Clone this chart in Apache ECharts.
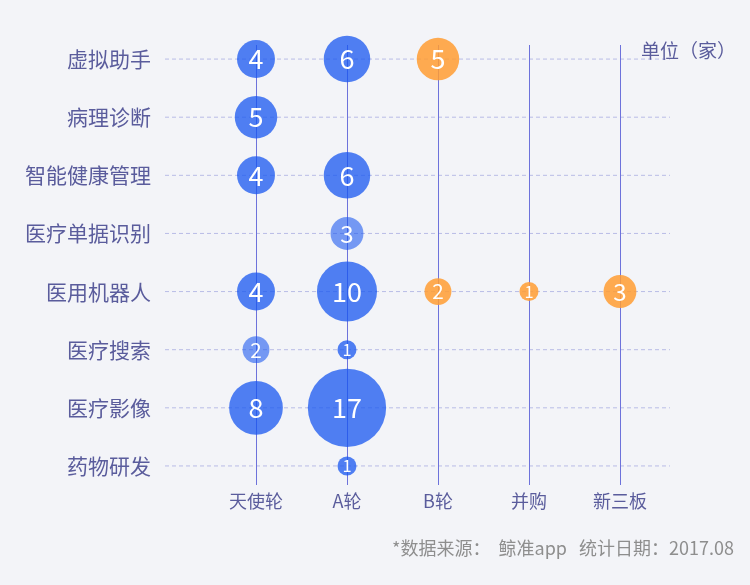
<!DOCTYPE html>
<html style="height: 100%">
<head>
    <meta charset="utf-8">
    <title>医疗AI融资轮次分布</title>
</head>
<body style="height: 100%; margin: 0; background: #f3f4f8">
<div id="container" style="width: 750px; height: 585px"></div>
<script type="text/javascript" src="https://cdn.jsdelivr.net/npm/echarts@6/dist/echarts.min.js"></script>
<script type="text/javascript">
// 融资轮次 (x) 与 应用领域 (y)
var stages = ['天使轮', 'A轮', 'B轮', '并购', '新三板'];
var fields = ['虚拟助手', '病理诊断', '智能健康管理', '医疗单据识别', '医用机器人', '医疗搜索', '医疗影像', '药物研发'];

// 每个轮次下各领域的公司数量（单位：家），按 fields 顺序
var angel  = [4, 5, 4, null, 4, 2, 8, null];
var roundA = [6, null, 6, 3, 10, 1, 17, 1];
var roundB = [5, null, null, null, 2, null, null, null];
var merger = [null, null, null, null, 1, null, null, null];
var neeq   = [null, null, null, null, 3, null, null, null];

var counts = [angel, roundA, roundB, merger, neeq];

var textColor = '#5a5c9c';
var fontFamily = 'Noto Sans CJK SC';

// 两个颜色稍浅的点: [轮次, 领域]
var lighter = {'1-3': true, '0-5': true};

function bubbleSize(val) {
    return 19 * Math.sqrt(val[2]);
}

function buildPoints(stageIdx) {
    var pts = [];
    stageIdx.forEach(function (s) {
        counts[s].forEach(function (v, f) {
            if (v == null) return;
            var item = {value: [s, f, v]};
            if (lighter[s + '-' + f]) item.itemStyle = {color: 'rgba(24, 87, 240, 0.58)'};
            item.label = {fontSize: Math.min(27, 6 + bubbleSize(item.value) * 0.55)};
            pts.push(item);
        });
    });
    return pts;
}

var bubbleLabel = {
    show: true,
    position: 'inside',
    color: '#fff',
    fontFamily: fontFamily,
    formatter: function (p) { return p.value[2]; }
};

var dom = document.getElementById('container');
var myChart = echarts.init(dom);

var option = {
    backgroundColor: '#f3f4f8',
    animation: false,
    title: [{
        text: '单位（家）',
        right: 9,
        top: 36,
        textStyle: {color: textColor, fontSize: 19, fontWeight: 'normal', fontFamily: fontFamily}
    }, {
        text: '*数据来源：  鲸准app   统计日期：2017.08',
        right: 11,
        top: 534,
        textStyle: {color: '#8e8e8e', fontSize: 18, fontWeight: 'normal', fontFamily: fontFamily}
    }],
    grid: {
        left: 165,
        right: 80,
        top: 30,
        bottom: 90
    },
    xAxis: {
        type: 'value',
        min: -1,
        max: 4.55,
        interval: 1,
        axisLine: {show: false},
        axisTick: {show: false},
        splitLine: {show: false},
        axisLabel: {
            color: textColor,
            fontSize: 18,
            fontFamily: fontFamily,
            margin: 6,
            verticalAlign: 'middle',
            formatter: function (v) { return stages[v] || ''; }
        }
    },
    yAxis: {
        type: 'category',
        data: fields,
        inverse: true,
        boundaryGap: true,
        axisLine: {show: false},
        axisTick: {show: false},
        splitLine: {show: false},
        axisLabel: {
            color: textColor,
            fontSize: 21,
            fontFamily: fontFamily,
            margin: 14
        }
    },
    series: [{
        // 横向虚线
        type: 'custom',
        silent: true,
        z: 1,
        data: fields.map(function (f, i) { return [0, i]; }),
        renderItem: function (params, api) {
            var cs = params.coordSys;
            var y = api.coord([api.value(0), api.value(1)])[1];
            return {
                type: 'line',
                shape: {x1: cs.x, y1: y, x2: cs.x + cs.width, y2: y},
                style: {stroke: '#b8bce6', lineWidth: 1, lineDash: [4, 3]}
            };
        }
    }, {
        // 竖线
        type: 'custom',
        silent: true,
        z: 1,
        data: stages.map(function (s, i) { return [i, 0]; }),
        renderItem: function (params, api) {
            var cs = params.coordSys;
            var x = Math.round(api.coord([api.value(0), api.value(1)])[0]) + 0.5;
            return {
                type: 'line',
                shape: {x1: x, y1: cs.y + 15, x2: x, y2: cs.y + cs.height - 10},
                style: {stroke: '#6d72db', lineWidth: 1}
            };
        }
    }, {
        name: '早期',
        type: 'scatter',
        z: 3,
        data: buildPoints([0, 1]),
        symbolSize: bubbleSize,
        itemStyle: {color: 'rgba(24, 87, 240, 0.75)', opacity: 1},
        label: bubbleLabel
    }, {
        name: '后期',
        type: 'scatter',
        z: 3,
        data: buildPoints([2, 3, 4]),
        symbolSize: bubbleSize,
        itemStyle: {color: 'rgba(255, 156, 50, 0.85)', opacity: 1},
        label: bubbleLabel
    }]
};

myChart.setOption(option);
</script>
</body>
</html>
